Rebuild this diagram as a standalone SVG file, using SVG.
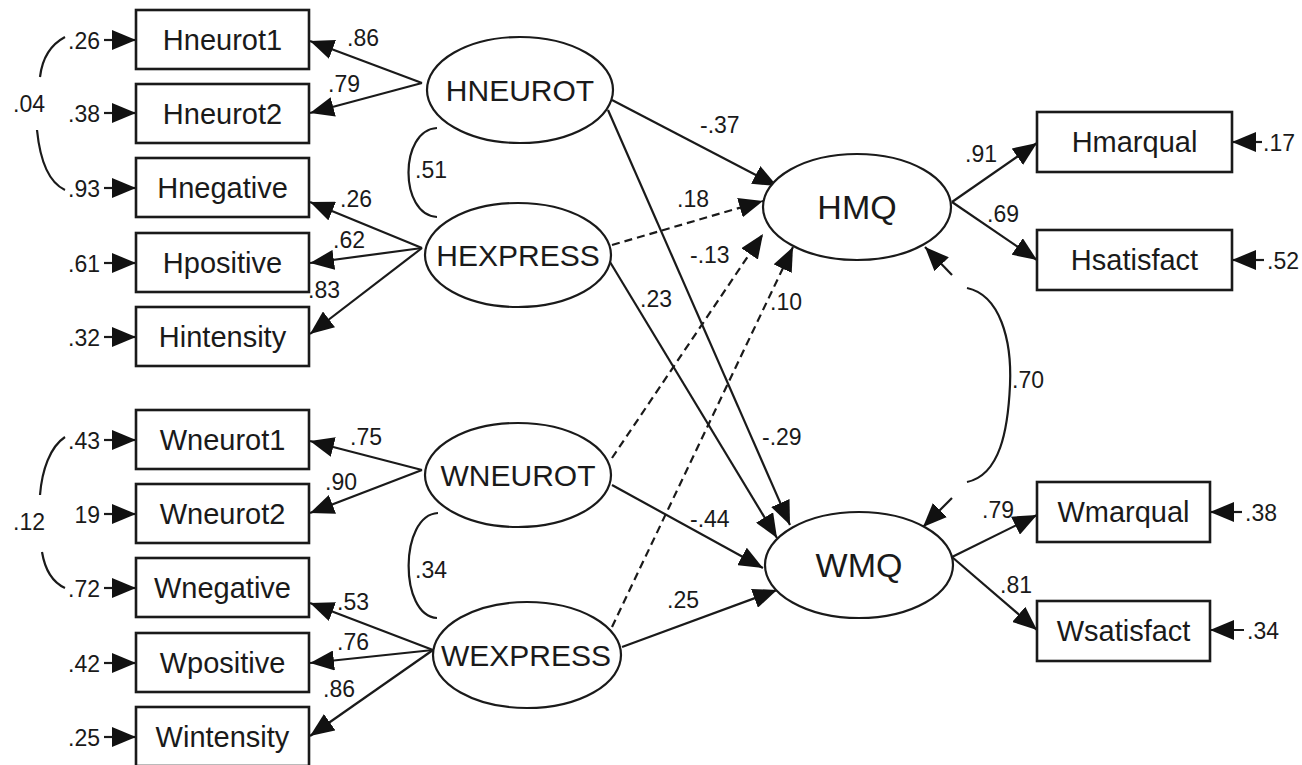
<svg xmlns="http://www.w3.org/2000/svg" width="1302" height="765" viewBox="0 0 1302 765">
  <style>
    .box { fill: #fff; stroke: #1a1a1a; stroke-width: 2.6; }
    .lat { fill: #fff; stroke: #1a1a1a; stroke-width: 2.2; }
    .lbl { font-family: "Liberation Sans", Arial, sans-serif; font-size: 29px; fill: #1a1a1a; text-anchor: middle; }
    .latlbl { font-family: "Liberation Sans", Arial, sans-serif; font-size: 30px; fill: #1a1a1a; text-anchor: middle; }
    .biglbl { font-family: "Liberation Sans", Arial, sans-serif; font-size: 34px; fill: #1a1a1a; text-anchor: middle; }
    .num { font-family: "Liberation Sans", Arial, sans-serif; font-size: 23px; fill: #1a1a1a; }
    .end { text-anchor: end; }
    .ln { fill: none; stroke: #1a1a1a; stroke-width: 2.2; }
    .arr { fill: none; stroke: #1a1a1a; stroke-width: 2.2; marker-end: url(#ah); }
    .dash { stroke-dasharray: 8 5; }
  </style>
  <defs>
    <marker id="ah" viewBox="0 0 24 20" refX="24" refY="10" markerWidth="24" markerHeight="20" orient="auto" markerUnits="userSpaceOnUse">
      <path d="M0,0 L24,10 L0,20 z" fill="#111"/>
    </marker>
  </defs>
  <rect width="1302" height="765" fill="#fff"/>

  <!-- connectors -->
  <g id="connectors">
    <!-- error terms, left indicators -->
    <line class="arr" x1="104" y1="40" x2="136" y2="40"/>
    <line class="arr" x1="104" y1="113" x2="136" y2="113"/>
    <line class="arr" x1="104" y1="188" x2="136" y2="188"/>
    <line class="arr" x1="104" y1="263" x2="136" y2="263"/>
    <line class="arr" x1="104" y1="337" x2="136" y2="337"/>
    <line class="arr" x1="104" y1="440" x2="136" y2="440"/>
    <line class="arr" x1="104" y1="514" x2="136" y2="514"/>
    <line class="arr" x1="104" y1="588" x2="136" y2="588"/>
    <line class="arr" x1="104" y1="663" x2="136" y2="663"/>
    <line class="arr" x1="104" y1="737" x2="136" y2="737"/>
    <!-- error terms, right indicators -->
    <line class="arr" x1="1262" y1="142" x2="1232" y2="142"/>
    <line class="arr" x1="1264" y1="260" x2="1232" y2="260"/>
    <line class="arr" x1="1242" y1="512" x2="1210" y2="512"/>
    <line class="arr" x1="1244" y1="630" x2="1210" y2="630"/>

    <!-- error covariances -->
    <path class="ln" d="M65,37 C50,45 42,60 40,77"/>
    <path class="ln" d="M37,130 C40,160 48,182 65,190"/>
    <path class="ln" d="M65,437 C50,447 42,470 40,495"/>
    <path class="ln" d="M42,552 C45,570 52,582 65,588"/>

    <!-- latent covariances -->
    <path class="ln" d="M437,128 C399,130 399,215 437,217"/>
    <path class="ln" d="M438,513 C399,515 399,616 437,618"/>
    <line class="arr" x1="952" y1="275" x2="925" y2="247"/>
    <path class="ln" d="M967,288 C1000,295 1012,340 1010,385 C1008,430 1000,475 967,482"/>
    <line class="arr" x1="952" y1="498" x2="923" y2="527"/>

    <!-- loadings -->
    <line class="arr" x1="422" y1="83" x2="310" y2="41"/>
    <line class="arr" x1="422" y1="83" x2="310" y2="113"/>
    <line class="arr" x1="422" y1="248" x2="310" y2="202"/>
    <line class="arr" x1="422" y1="248" x2="310" y2="263"/>
    <line class="arr" x1="422" y1="248" x2="310" y2="334"/>
    <line class="arr" x1="422" y1="470" x2="310" y2="441"/>
    <line class="arr" x1="422" y1="470" x2="310" y2="513"/>
    <line class="arr" x1="433" y1="650" x2="310" y2="603"/>
    <line class="arr" x1="433" y1="650" x2="310" y2="663"/>
    <line class="arr" x1="433" y1="650" x2="310" y2="736"/>
    <line class="arr" x1="952" y1="202" x2="1037" y2="143"/>
    <line class="arr" x1="952" y1="202" x2="1037" y2="260"/>
    <line class="arr" x1="952" y1="557" x2="1037" y2="515"/>
    <line class="arr" x1="952" y1="557" x2="1037" y2="630"/>

    <!-- structural paths -->
    <line class="arr" x1="612" y1="100" x2="777" y2="186"/>
    <line class="arr" x1="608" y1="110" x2="790" y2="525"/>
    <line class="arr dash" x1="612" y1="245" x2="763" y2="201"/>
    <line class="arr" x1="610" y1="262" x2="777" y2="538"/>
    <line class="arr dash" x1="612" y1="458" x2="763" y2="234"/>
    <line class="arr" x1="612" y1="485" x2="763" y2="568"/>
    <line class="arr dash" x1="612" y1="627" x2="793" y2="247"/>
    <line class="arr" x1="622" y1="647" x2="777" y2="590"/>

    <!-- coefficients -->
    <text class="num end" x="100" y="49">.26</text>
    <text class="num end" x="100" y="122">.38</text>
    <text class="num end" x="100" y="197">.93</text>
    <text class="num end" x="100" y="272">.61</text>
    <text class="num end" x="100" y="346">.32</text>
    <text class="num end" x="100" y="449">.43</text>
    <text class="num end" x="100" y="523">19</text>
    <text class="num end" x="100" y="597">.72</text>
    <text class="num end" x="100" y="672">.42</text>
    <text class="num end" x="100" y="746">.25</text>
    <text class="num" x="13" y="112">.04</text>
    <text class="num" x="13" y="530">.12</text>
    <text class="num" x="347" y="46">.86</text>
    <text class="num" x="328" y="92">.79</text>
    <text class="num" x="340" y="207">.26</text>
    <text class="num" x="333" y="248">.62</text>
    <text class="num" x="308" y="298">.83</text>
    <text class="num" x="350" y="445">.75</text>
    <text class="num" x="325" y="490">.90</text>
    <text class="num" x="337" y="610">.53</text>
    <text class="num" x="337" y="650">.76</text>
    <text class="num" x="323" y="697">.86</text>
    <text class="num" x="415" y="178">.51</text>
    <text class="num" x="415" y="578">.34</text>
    <text class="num" x="700" y="133">-.37</text>
    <text class="num" x="677" y="207">.18</text>
    <text class="num" x="690" y="263">-.13</text>
    <text class="num" x="640" y="307">.23</text>
    <text class="num" x="770" y="310">.10</text>
    <text class="num" x="762" y="445">-.29</text>
    <text class="num" x="690" y="527">-.44</text>
    <text class="num" x="667" y="608">.25</text>
    <text class="num" x="1012" y="388">.70</text>
    <text class="num" x="965" y="162">.91</text>
    <text class="num" x="987" y="222">.69</text>
    <text class="num" x="982" y="518">.79</text>
    <text class="num" x="1000" y="593">.81</text>
    <text class="num" x="1263" y="151">.17</text>
    <text class="num" x="1267" y="269">.52</text>
    <text class="num" x="1245" y="521">.38</text>
    <text class="num" x="1247" y="639">.34</text>
  </g>

  <!-- observed indicators, left -->
  <g id="Hneurot1"><rect class="box" x="136" y="10" width="173" height="59"/><text class="lbl" x="222.5" y="50">Hneurot1</text></g>
  <g id="Hneurot2"><rect class="box" x="136" y="84" width="173" height="59"/><text class="lbl" x="222.5" y="124">Hneurot2</text></g>
  <g id="Hnegative"><rect class="box" x="136" y="158" width="173" height="59"/><text class="lbl" x="222.5" y="198">Hnegative</text></g>
  <g id="Hpositive"><rect class="box" x="136" y="233" width="173" height="59"/><text class="lbl" x="222.5" y="273">Hpositive</text></g>
  <g id="Hintensity"><rect class="box" x="136" y="307" width="173" height="59"/><text class="lbl" x="222.5" y="347">Hintensity</text></g>
  <g id="Wneurot1"><rect class="box" x="136" y="410" width="173" height="59"/><text class="lbl" x="222.5" y="450">Wneurot1</text></g>
  <g id="Wneurot2"><rect class="box" x="136" y="484" width="173" height="59"/><text class="lbl" x="222.5" y="524">Wneurot2</text></g>
  <g id="Wnegative"><rect class="box" x="136" y="558" width="173" height="59"/><text class="lbl" x="222.5" y="598">Wnegative</text></g>
  <g id="Wpositive"><rect class="box" x="136" y="633" width="173" height="59"/><text class="lbl" x="222.5" y="673">Wpositive</text></g>
  <g id="Wintensity"><rect class="box" x="136" y="707" width="173" height="59"/><text class="lbl" x="222.5" y="747">Wintensity</text></g>

  <!-- latent variables -->
  <g id="HNEUROT"><ellipse class="lat" cx="520" cy="90" rx="93" ry="53"/><text class="latlbl" x="520" y="101">HNEUROT</text></g>
  <g id="HEXPRESS"><ellipse class="lat" cx="518" cy="255" rx="93" ry="52"/><text class="latlbl" x="518" y="266">HEXPRESS</text></g>
  <g id="WNEUROT"><ellipse class="lat" cx="518" cy="475" rx="93" ry="52"/><text class="latlbl" x="518" y="486">WNEUROT</text></g>
  <g id="WEXPRESS"><ellipse class="lat" cx="527" cy="655" rx="94" ry="53"/><text class="latlbl" x="526" y="666">WEXPRESS</text></g>
  <g id="HMQ"><ellipse class="lat" cx="857" cy="207" rx="94" ry="53"/><text class="biglbl" x="857" y="219">HMQ</text></g>
  <g id="WMQ"><ellipse class="lat" cx="859" cy="565" rx="94" ry="53"/><text class="biglbl" x="859" y="577">WMQ</text></g>

  <!-- observed indicators, right -->
  <g id="Hmarqual"><rect class="box" x="1037" y="112" width="195" height="60"/><text class="lbl" x="1134.5" y="152">Hmarqual</text></g>
  <g id="Hsatisfact"><rect class="box" x="1037" y="230" width="195" height="60"/><text class="lbl" x="1134.5" y="270">Hsatisfact</text></g>
  <g id="Wmarqual"><rect class="box" x="1037" y="482" width="173" height="60"/><text class="lbl" x="1123.5" y="522">Wmarqual</text></g>
  <g id="Wsatisfact"><rect class="box" x="1037" y="601" width="173" height="60"/><text class="lbl" x="1123.5" y="641">Wsatisfact</text></g>
</svg>
